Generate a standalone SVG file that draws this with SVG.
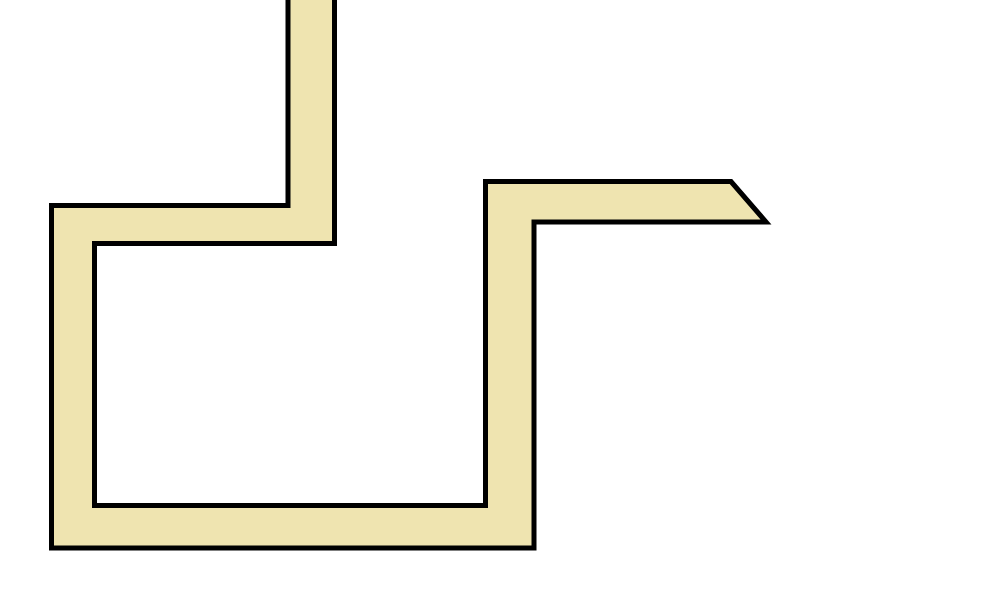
<svg xmlns="http://www.w3.org/2000/svg" width="1000" height="600" viewBox="0 0 1000 600">
<style>
.wall{fill:#efe4b0;stroke:#000;stroke-width:5;stroke-linejoin:miter}
</style>
<rect x="0" y="0" width="1000" height="600" fill="#fff"/>
<polygon class="wall" points="288,-5 288,205.5 51.5,205.5 51.5,548 534,548 534,222 766,222 731,181.5 485.5,181.5 485.5,505.5 94.5,505.5 94.5,243.5 334.5,243.5 334.5,-5"/>
</svg>
